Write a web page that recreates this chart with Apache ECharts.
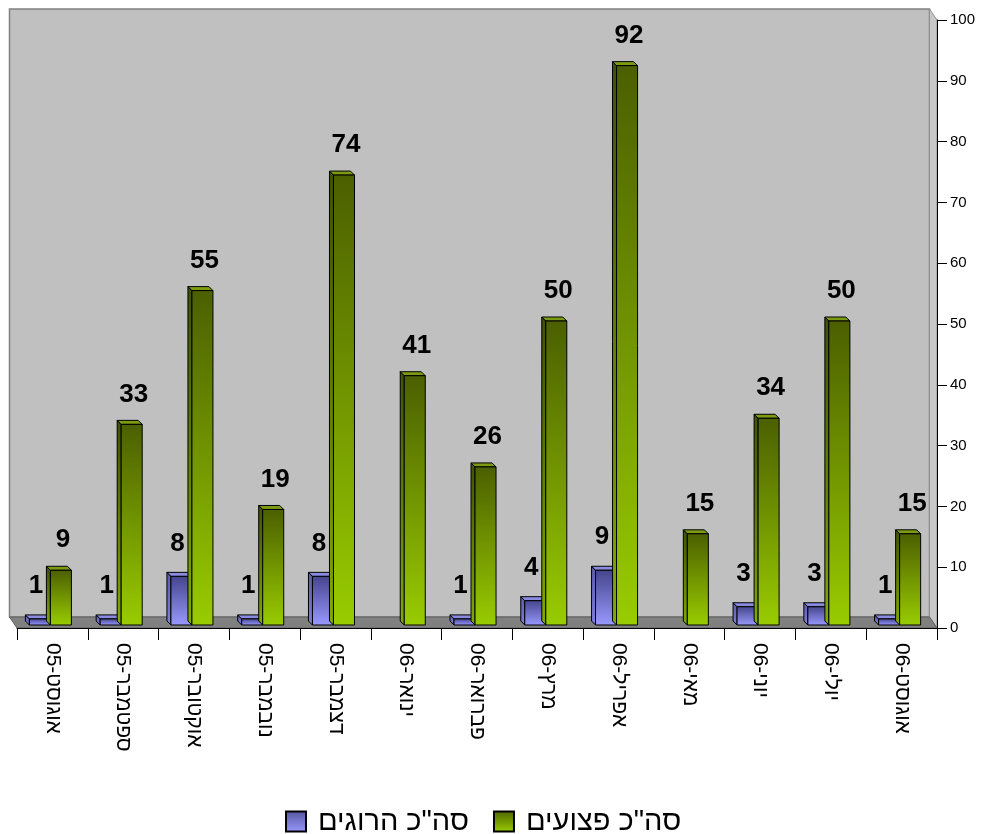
<!DOCTYPE html>
<html><head><meta charset="utf-8">
<script src="https://cdn.jsdelivr.net/npm/echarts@6/dist/echarts.min.js"></script>
<style>html,body{margin:0;padding:0;background:#fff}#c{width:984px;height:834px}</style>
</head><body><div id="c"></div>
<script>
var categories = ['אוגוסט-05','ספטמבר-05','אוקטובר-05','נובמבר-05','דצמבר-05','ינואר-06','פברואר-06','מרץ-06','אפריל-06','מאי-06','יוני-06','יולי-06','אוגוסט-06'];
var injured = [9,33,55,19,74,41,26,50,92,15,34,50,15];
var killed = [1,1,8,1,8,null,1,4,9,null,3,3,1];
var yMin = 0, yMax = 100, yInterval = 10;
var nameInjured = 'סה"כ פצועים';
var nameKilled = 'סה"כ הרוגים';

var G = echarts.graphic;
function grad(a, b) { return new G.LinearGradient(0, 0, 0, 1, [{offset: 0, color: a}, {offset: 1, color: b}]); }

function makeBar(offFrac, front, side, topC, labelDx, labelDy) {
  return function (params, api) {
    var v = api.value(1);
    if (v === null || v === undefined || isNaN(v)) return null;
    var i = api.value(0);
    var c = api.coord([i, v]), b = api.coord([i, 0]);
    var band = api.size([1, 0])[0];
    var w = band * 0.297;
    var x0 = c[0] + band * offFrac, x1 = x0 + w;
    var yt = c[1] - 3, yb = b[1] - 3;
    var dx = -4, dy = -4;
    var h = Math.max(yb - yt, 0);
    return {type: 'group', children: [
      {type: 'polygon', shape: {points: [[x0, yt], [x0 + dx, yt + dy], [x0 + dx, yb + dy], [x0, yb]]}, style: {fill: side(), stroke: '#000', lineWidth: 1}},
      {type: 'polygon', shape: {points: [[x0, yt], [x0 + dx, yt + dy], [x1 + dx, yt + dy], [x1, yt]]}, style: {fill: topC, stroke: '#000', lineWidth: 1}},
      {type: 'rect', shape: {x: x0, y: yt, width: w, height: h}, style: {fill: front(), stroke: '#000', lineWidth: 1}},
      {type: 'text', style: {text: String(v), x: (x0 + x1) / 2 + labelDx, y: yt + labelDy, align: 'center', verticalAlign: 'middle', textAlign: 'center', textVerticalAlign: 'middle', font: 'bold 26px Arial, "Liberation Sans", sans-serif', fill: '#000'}}
    ]};
  };
}

var chart = echarts.init(document.getElementById('c'));
chart.setOption({
  animation: false,
  backgroundColor: '#fff',
  grid: {left: 17, right: 47, top: 20, bottom: 206, containLabel: false},
  legend: {
    data: [nameKilled, nameInjured],
    left: 280, top: 802,
    itemWidth: 20, itemHeight: 20, itemGap: 24,
    icon: 'rect',
    textStyle: {fontSize: 29, color: '#000', padding: [0, 0, 0, 7], fontFamily: 'Arial, "Liberation Sans", sans-serif'}
  },
  xAxis: {
    type: 'category', data: categories, z: 5,
    axisLine: {show: true, lineStyle: {color: '#000', width: 1}},
    axisTick: {show: true, length: 12, interval: 0, lineStyle: {color: '#000'}},
    axisLabel: {interval: 0, rotate: -90, margin: 15, fontSize: 21, color: '#000', fontFamily: 'Arial, "Liberation Sans", sans-serif'},
    splitLine: {show: false}
  },
  yAxis: {
    type: 'value', position: 'right', min: yMin, max: yMax, interval: yInterval, z: 5,
    axisLine: {show: true, lineStyle: {color: '#000', width: 1}},
    axisTick: {show: true, length: 10, lineStyle: {color: '#000'}},
    axisLabel: {fontSize: 15, color: '#000', margin: 13, fontFamily: 'Arial, "Liberation Sans", sans-serif'},
    splitLine: {show: false}
  },
  series: [
    {
      type: 'custom', name: 'walls', silent: true, z: 1, clip: false,
      data: [[0, 0]],
      renderItem: function (params, api) {
        var cs = params.coordSys; var x = cs.x, y = cs.y, W = cs.width, H = cs.height;
        var dx = -7.5, dy = -11;
        return {type: 'group', children: [
          {type: 'rect', shape: {x: x + dx, y: y + dy, width: W, height: H}, style: {fill: '#c0c0c0', stroke: '#808080', lineWidth: 1.5}},
          {type: 'polygon', shape: {points: [[x + W + dx, y + dy], [x + W, y], [x + W, y + H], [x + W + dx, y + H + dy]]}, style: {fill: '#c8c8c8', stroke: '#909090', lineWidth: 1}},
          {type: 'polygon', shape: {points: [[x + dx, y + H + dy], [x + W + dx, y + H + dy], [x + W, y + H], [x, y + H]]}, style: {fill: '#808080', stroke: '#606060', lineWidth: 1}}
        ]};
      }
    },
    {
      type: 'custom', name: nameKilled, z: 2, clip: false,
      itemStyle: {color: grad('#55559f', '#9999ff'), borderColor: '#000', borderWidth: 1},
      data: killed.map(function (v, i) { return [i, v]; }),
      encode: {x: 0, y: 1},
      renderItem: makeBar(-0.325, function () { return grad('#44448c', '#9999ff'); }, function () { return grad('#5a5aa8', '#8080e0'); }, '#8a8ae0', -4, -33)
    },
    {
      type: 'custom', name: nameInjured, z: 2, clip: false,
      itemStyle: {color: grad('#4d6600', '#99cc00'), borderColor: '#000', borderWidth: 1},
      data: injured.map(function (v, i) { return [i, v]; }),
      encode: {x: 0, y: 1},
      renderItem: makeBar(-0.028, function () { return grad('#4b5f00', '#99cc00'); }, function () { return grad('#3f5200', '#80aa00'); }, '#7c9a12', 2, -30)
    }
  ]
});
</script>
</body></html>
